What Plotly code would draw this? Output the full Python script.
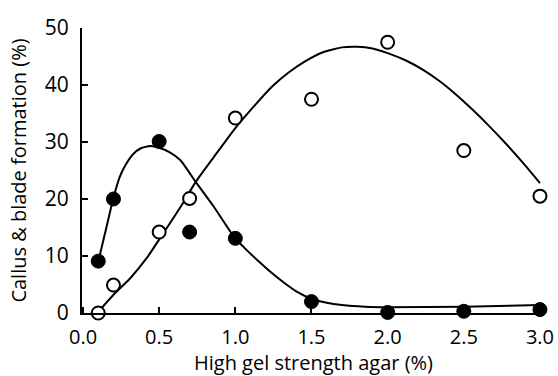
import plotly.graph_objects as go

# Measured points
agar = [0.1, 0.2, 0.5, 0.7, 1.0, 1.5, 2.0, 2.5, 3.0]
filled_vals = [9.1, 20.0, 30.1, 14.2, 13.1, 2.0, 0.1, 0.3, 0.6]
open_vals = [0.0, 4.9, 14.2, 20.1, 34.2, 37.5, 47.5, 28.5, 20.5]

# Fitted curves
filled_curve_x = [0.10, 0.15, 0.20, 0.24, 0.28, 0.33, 0.38, 0.44, 0.50, 0.57, 0.64, 0.74, 0.86, 0.99, 1.08, 1.16, 1.24, 1.32, 1.40, 1.50, 1.60, 1.70, 1.85, 2.00, 2.50, 3.00]
filled_curve_y = [9.0, 14.6, 20.2, 23.8, 26.0, 27.9, 28.9, 29.3, 29.0, 28.2, 26.8, 23.0, 18.6, 13.4, 10.9, 8.9, 7.0, 5.3, 3.8, 2.5, 1.8, 1.4, 1.1, 1.0, 1.1, 1.4]
open_curve_x = [0.11, 0.20, 0.31, 0.42, 0.51, 0.64, 0.74, 0.86, 0.99, 1.12, 1.24, 1.35, 1.46, 1.58, 1.70, 1.80, 1.90, 2.00, 2.12, 2.23, 2.34, 2.45, 2.56, 2.67, 2.78, 2.89, 3.00]
open_curve_y = [0.5, 3.2, 6.1, 9.7, 13.3, 18.6, 23.0, 27.4, 32.1, 36.2, 39.7, 42.2, 44.2, 45.8, 46.6, 46.7, 46.4, 45.6, 44.3, 42.7, 40.7, 38.3, 35.6, 32.7, 29.6, 26.3, 22.8]

x_ticks = [0.0, 0.5, 1.0, 1.5, 2.0, 2.5, 3.0]
x_tick_text = ["0.0", "0.5", "1.0", "1.5", "2.0", "2.5", "3.0"]
y_ticks = [0, 10, 20, 30, 40, 50]

FONT = "Open Sans"

fig = go.Figure()
for cx, cy in ((filled_curve_x, filled_curve_y), (open_curve_x, open_curve_y)):
    fig.add_trace(go.Scatter(x=cx, y=cy, mode="lines",
                             line=dict(color="black", width=2, shape="spline", smoothing=0.5),
                             hoverinfo="skip", cliponaxis=False))
fig.add_trace(go.Scatter(x=agar, y=open_vals, mode="markers",
                         marker=dict(size=13, color="white", line=dict(color="black", width=2)),
                         cliponaxis=False))
fig.add_trace(go.Scatter(x=agar, y=filled_vals, mode="markers",
                         marker=dict(size=14, color="black", line=dict(color="black", width=1)),
                         cliponaxis=False))

fig.update_layout(
    width=558, height=376,
    margin=dict(l=82, r=13, t=28, b=63),
    paper_bgcolor="white", plot_bgcolor="white",
    showlegend=False,
    font=dict(family=FONT, color="black", size=18),
    xaxis=dict(range=[-0.0066, 3.033], tickvals=x_ticks, ticktext=x_tick_text, automargin=False,
               ticks="inside", ticklen=6, tickwidth=2, tickcolor="black",
               showline=True, linecolor="black", linewidth=2, showgrid=False, zeroline=False,
               tickfont=dict(size=20, family=FONT), ticklabelstandoff=5,
               title=dict(text="High gel strength agar (%)", font=dict(size=20, family=FONT), standoff=8)),
    yaxis=dict(range=[0, 50], tickvals=y_ticks, automargin=False,
               ticks="inside", ticklen=6, tickwidth=2, tickcolor="black",
               showline=True, linecolor="black", linewidth=2, showgrid=False, zeroline=False,
               tickfont=dict(size=21, family=FONT), ticklabelstandoff=7,
               title=dict(text="Callus & blade formation (%)", font=dict(size=20, family=FONT), standoff=13)),
)

fig.write_html("out.html", post_script="document.body.style.margin='0';",
               config={"displayModeBar": False})
